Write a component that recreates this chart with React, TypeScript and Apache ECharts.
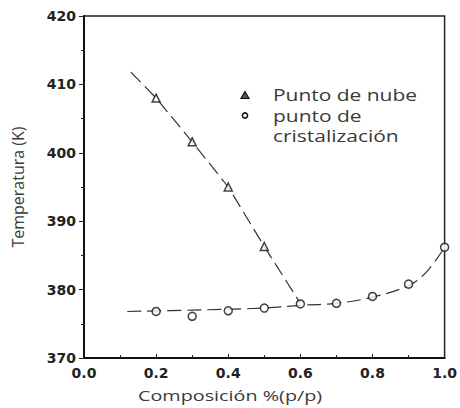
import React, { useEffect, useRef } from "react";
import * as echarts from "echarts";

const cloudX = [0.2, 0.3, 0.4, 0.5];
const cloudT = [408.0, 401.6, 395.0, 386.3];
const crystX = [0.2, 0.3, 0.4, 0.5, 0.6, 0.7, 0.8, 0.9, 1.0];
const crystT = [376.8, 376.1, 376.9, 377.3, 377.9, 378.0, 379.0, 380.8, 386.2];
const cloudCurveX = [0.13, 0.2, 0.3, 0.4, 0.5, 0.6];
const cloudCurveT = [411.8, 408.0, 401.6, 395.0, 386.3, 378.0];
const crystCurveX = [0.12, 0.3, 0.5, 0.6, 0.7, 0.8, 0.9, 0.95, 1.0];
const crystCurveT = [376.8, 377.0, 377.3, 377.7, 378.0, 378.9, 380.6, 382.6, 386.2];

const cloudName = "Punto de nube";
const crystLines = ["punto de", "cristalización"];
const xAxisTitle = "Composición %(p/p)";
const yAxisTitle = "Temperatura (K)";

const zip = (xs: number[], ys: number[]) => xs.map((x, i) => [x, ys[i]]);

export default function App() {
  const ref = useRef<HTMLDivElement>(null);
  useEffect(() => {
    const chart = echarts.init(ref.current!, null, { renderer: "svg" });
    const tickFont = { fontFamily: "DejaVu Sans", fontWeight: "bold" as const, fontSize: 14, color: "#222" };
    const lineStyle = { color: "#333", width: 1.2, type: [14, 6] as any };
    const txt = (text: string, x: number, y: number, scaleX: number, size = 16) => ({
      type: "text",
      x,
      y,
      scaleX,
      style: {
        text,
        font: `${size}px 'Open Sans'`,
        fill: "#3a3a3a",
        align: "left",
        verticalAlign: "middle",
      },
    });
    chart.setOption({
      animation: false,
      backgroundColor: "#fff",
      grid: { left: 84, right: 12, top: 16, bottom: 50, show: true, borderColor: "#222", borderWidth: 1.5 },
      graphic: [
        {
          type: "polygon",
          shape: { points: [[245, 91.5], [249, 98.5], [241, 98.5]] },
          style: { fill: "#555", stroke: "#111", lineWidth: 1.2 },
        },
        {
          type: "circle",
          shape: { cx: 245, cy: 115.5, r: 2.6 },
          style: { fill: "#fff", stroke: "#111", lineWidth: 1.5 },
        },
        txt(cloudName, 273, 95, 1.31),
        txt(crystLines[0], 273, 115.5, 1.31),
        txt(crystLines[1], 273, 135.5, 1.31),
        txt(xAxisTitle, 138, 395, 1.32, 15),
      ],
      xAxis: {
        type: "value",
        min: 0,
        max: 1,
        interval: 0.2,
        axisLine: { lineStyle: { color: "#111", width: 2 } },
        axisTick: { inside: true, length: 4, lineStyle: { color: "#222" } },
        minorTick: { show: true, splitNumber: 2, length: 3, lineStyle: { color: "#222" } },
        axisLabel: { ...tickFont, margin: 8, formatter: (v: number) => v.toFixed(1) },
        splitLine: { show: false },
      },
      yAxis: {
        type: "value",
        min: 370,
        max: 420,
        interval: 10,
        name: yAxisTitle,
        nameLocation: "middle",
        nameGap: 58,
        nameTextStyle: { fontFamily: "Open Sans", fontSize: 16, color: "#3a3a3a" },
        axisLine: { lineStyle: { color: "#111", width: 2 } },
        axisTick: { inside: false, length: 5, lineStyle: { color: "#222" } },
        minorTick: { show: true, splitNumber: 2, length: 3, lineStyle: { color: "#222" } },
        axisLabel: { ...tickFont, margin: 8 },
        splitLine: { show: false },
      },
      series: [
        {
          type: "line",
          name: "cloudCurve",
          data: zip(cloudCurveX, cloudCurveT),
          showSymbol: false,
          symbol: "none",
          lineStyle,
          z: 1,
        },
        {
          type: "line",
          name: "crystCurve",
          data: zip(crystCurveX, crystCurveT),
          smooth: 0.4,
          showSymbol: false,
          symbol: "none",
          lineStyle,
          z: 1,
        },
        {
          type: "scatter",
          name: cloudName,
          data: zip(cloudX, cloudT),
          symbol: "triangle",
          symbolSize: 8,
          itemStyle: { color: "#fff", borderColor: "#111", borderWidth: 1.5 },
          z: 3,
        },
        {
          type: "scatter",
          name: crystLines.join(" "),
          data: zip(crystX, crystT),
          symbol: "circle",
          symbolSize: 8,
          itemStyle: { color: "#fff", borderColor: "#111", borderWidth: 1.5 },
          z: 3,
        },
      ],
    });
    return () => chart.dispose();
  }, []);
  return <div ref={ref} style={{ width: 460, height: 408, position: "absolute", left: 0, top: 0 }} />;
}
